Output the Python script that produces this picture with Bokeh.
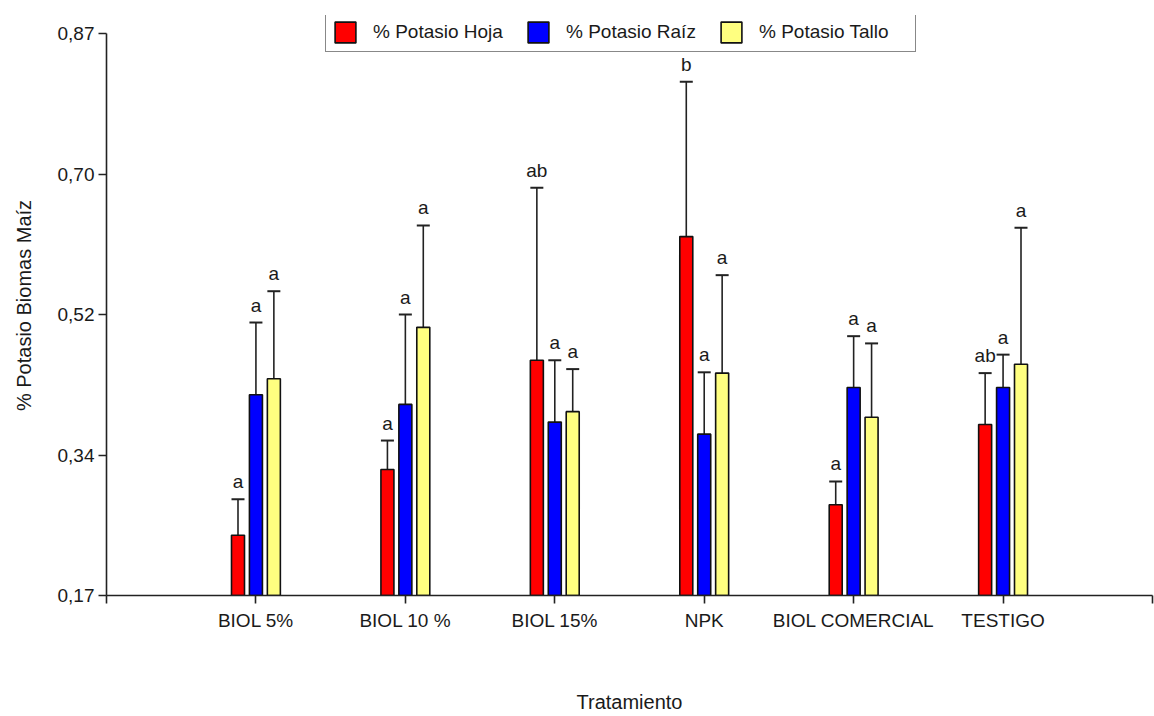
from bokeh.plotting import figure
from bokeh.models import FixedTicker, Legend, LegendItem, Range1d, ColumnDataSource
from bokeh.core.properties import value
from bokeh.embed import file_html
from bokeh.resources import INLINE

# ---- data ----
categories = ["BIOL 5%", "BIOL 10 %", "BIOL 15%", "NPK", "BIOL COMERCIAL", "TESTIGO"]
series_names = ["% Potasio Hoja", "% Potasio Raíz", "% Potasio Tallo"]

hoja = [0.245, 0.327, 0.463, 0.617, 0.283, 0.383]
hoja_sd = [0.045, 0.036, 0.215, 0.193, 0.029, 0.064]
hoja_letters = ["a", "a", "ab", "b", "a", "ab"]

raiz = [0.420, 0.408, 0.386, 0.371, 0.429, 0.429]
raiz_sd = [0.090, 0.112, 0.077, 0.077, 0.064, 0.041]
raiz_letters = ["a", "a", "a", "a", "a", "a"]

tallo = [0.440, 0.504, 0.399, 0.447, 0.392, 0.458]
tallo_sd = [0.109, 0.127, 0.053, 0.122, 0.092, 0.170]
tallo_letters = ["a", "a", "a", "a", "a", "a"]

y_ticks = [0.17, 0.345, 0.52, 0.695, 0.87]
y_tick_labels = ["0,17", "0,34", "0,52", "0,70", "0,87"]

colors = ["#FF0000", "#0000FF", "#FFFF80"]
FONT = "Liberation Sans"

# ---- layout (pixels) ----
W, H = 1154, 716
frame_left, frame_right = 106, 1152
axis_top_px, axis_bottom_px = 33, 595   # where 0.87 and 0.17 sit
frame_top = 15                          # frame starts higher so the legend is not clipped
y_min, y_max = y_ticks[0], y_ticks[-1]
units_per_px = (y_max - y_min) / (axis_bottom_px - axis_top_px)
y_frame_top = y_max + (axis_top_px - frame_top) * units_per_px

p = figure(width=W, height=H,
           x_range=Range1d(0, 7), y_range=Range1d(y_min, y_frame_top),
           output_backend="svg", toolbar_location=None,
           min_border_left=frame_left, min_border_right=W - frame_right,
           min_border_top=frame_top, min_border_bottom=H - axis_bottom_px)
p.xgrid.visible = False
p.ygrid.visible = False
p.outline_line_color = None
p.background_fill_color = "white"

bar_w = 0.087
offsets = [-0.12, 0.0, 0.12]

renderers = []
for means, sds, letters, off, col in zip(
        [hoja, raiz, tallo], [hoja_sd, raiz_sd, tallo_sd],
        [hoja_letters, raiz_letters, tallo_letters], offsets, colors):
    xs = [i + 1 + off for i in range(len(categories))]
    tops = [m + s for m, s in zip(means, sds)]
    src = ColumnDataSource(dict(
        x=xs, top=means, err=tops, lab=letters,
        x0=[x - bar_w / 2 for x in xs], x1=[x + bar_w / 2 for x in xs]))
    p.segment(x0="x", y0="top", x1="x", y1="err", source=src,
              line_color="#222222", line_width=1.6)
    p.segment(x0="x0", y0="err", x1="x1", y1="err", source=src,
              line_color="#222222", line_width=2)
    r = p.vbar(x="x", top="top", bottom=y_min, width=bar_w, source=src,
               fill_color=col, line_color="#111111", line_width=1.6)
    renderers.append(r)
    p.text(x="x", y="err", text="lab", source=src,
           text_align="center", text_baseline="bottom", y_offset=-7,
           text_font=value(FONT), text_font_size="19px", text_color="#1a1a1a")

# ---- axes ----
xa = p.xaxis[0]
xa.ticker = FixedTicker(ticks=list(range(0, 8)))
xa.major_label_overrides = {0: "", 7: "", **{i + 1: c for i, c in enumerate(categories)}}
xa.axis_label = "Tratamiento"
xa.major_label_standoff = 6
xa.axis_label_standoff = 57

ya = p.yaxis[0]
ya.ticker = FixedTicker(ticks=y_ticks)
ya.bounds = (y_min, y_max)
ya.major_label_overrides = {t: l for t, l in zip(y_ticks, y_tick_labels)}
ya.axis_label = "% Potasio Biomas Maíz"
ya.major_label_standoff = 4
ya.axis_label_standoff = 20

for ax in (xa, ya):
    ax.axis_line_color = "#222222"
    ax.axis_line_width = 1.6
    ax.major_tick_line_color = "#222222"
    ax.major_tick_line_width = 1.6
    ax.major_tick_out = 8
    ax.major_tick_in = 0
    ax.minor_tick_line_color = None
    ax.major_label_text_font = FONT
    ax.major_label_text_font_size = "19px"
    ax.major_label_text_color = "#1a1a1a"
    ax.axis_label_text_font = FONT
    ax.axis_label_text_font_size = "20px"
    ax.axis_label_text_font_style = "normal"
    ax.axis_label_text_color = "#1a1a1a"

# ---- legend ----
legend = Legend(items=[LegendItem(label=n, renderers=[r]) for n, r in zip(series_names, renderers)],
                orientation="horizontal", location=(219, 543),
                glyph_width=26, glyph_height=26, label_height=26, label_width=150,
                label_standoff=15, spacing=2, padding=6, margin=0,
                border_line_color="#111111", border_line_width=1.6,
                background_fill_alpha=1.0,
                label_text_font=FONT, label_text_font_size="19px",
                label_text_color="#1a1a1a")
p.add_layout(legend)

open("out.html", "w").write(file_html(p, INLINE))
